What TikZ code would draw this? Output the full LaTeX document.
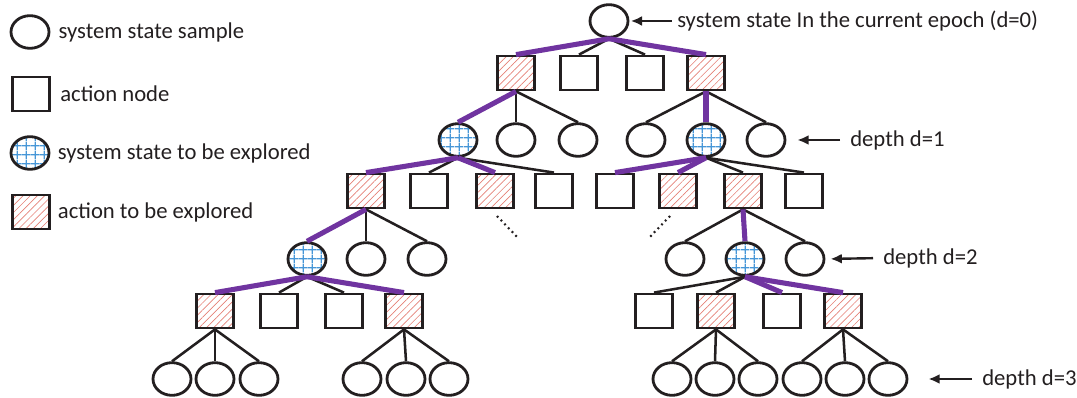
\documentclass[tikz,border=0pt]{standalone}
\usepackage{fontspec}
\setmainfont{Carlito}
\usetikzlibrary{shapes.geometric,patterns.meta,arrows.meta,positioning}
\definecolor{ink}{RGB}{35,31,32}
\definecolor{walkpurple}{RGB}{112,52,160}
\definecolor{gridblue}{RGB}{70,150,215}
\definecolor{hatchred}{RGB}{228,128,118}
\begin{document}
\begin{tikzpicture}
  [x=0.75pt, y=-0.75pt,
  statenode/.style={ellipse, draw=ink, line width=2.1pt, minimum width=28.5pt, minimum height=24.5pt, inner sep=0pt},
  actnode/.style={rectangle, draw=ink, line width=2.1pt, minimum width=27.5pt, minimum height=25.5pt, inner sep=0pt},
  openstate/.style={statenode, pattern={Hatch[angle=0,distance=6.5pt,line width=0.9pt]}, pattern color=gridblue},
  openact/.style={actnode, pattern={Lines[angle=45,distance=3.8pt,line width=0.5pt]}, pattern color=hatchred},
  lbl/.style={inner sep=0pt, anchor=west, text=ink, font=\fontsize{17}{20}\selectfont},
  tie/.style={draw=ink, line width=1.9pt},
  walk/.style={draw=walkpurple, line width=3.8pt},
  note/.style={draw=ink, line width=1.8pt, -{Latex[length=8.5pt,width=7.5pt]}},
  ]
  \useasboundingbox (0,0) rectangle (1077,398);

  % legend
  \node[statenode] (k1) at (30,32) {};
  \node[actnode] (k2) at (31,94) {};
  \node[openstate] (k3) at (30,153) {};
  \node[openact] (k4) at (31,212) {};
  \node[lbl, right=6pt of k1] (kt1) {system state sample};
  \node[lbl, right=7pt of k2] (kt2) {action node};
  \node[lbl, right=6pt of k3] (kt3) {system state to be explored};
  \node[lbl, right=6pt of k4] (kt4) {action to be explored};

  % tree
  \node[statenode] (r) at (609,21) {};

  \node[openact] (a1) at (516,73) {};
  \node[actnode] (a2) at (579,73) {};
  \node[actnode] (a3) at (645,73) {};
  \node[openact] (a4) at (706,73) {};

  \node[openstate] (b1) at (458,140) {};
  \node[statenode] (b2) at (516,140) {};
  \node[statenode] (b3) at (578,140) {};
  \node[statenode] (b4) at (646,140) {};
  \node[openstate] (b5) at (706,140) {};
  \node[statenode] (b6) at (766,140) {};

  \node[openact] (c1) at (366,191) {};
  \node[actnode] (c2) at (429,191) {};
  \node[openact] (c3) at (495,191) {};
  \node[actnode] (c4) at (554,191) {};
  \node[actnode] (c5) at (615,191) {};
  \node[openact] (c6) at (678,191) {};
  \node[openact] (c7) at (743,191) {};
  \node[actnode] (c8) at (804,191) {};

  \node[openstate] (d1) at (307,259) {};
  \node[statenode] (d2) at (366,259) {};
  \node[statenode] (d3) at (427,259) {};
  \node[statenode] (d4) at (685,259) {};
  \node[openstate] (d5) at (745,259) {};
  \node[statenode] (d6) at (805,259) {};

  \node[openact] (e1) at (215,311) {};
  \node[actnode] (e2) at (279,311) {};
  \node[actnode] (e3) at (344,311) {};
  \node[openact] (e4) at (404,311) {};
  \node[actnode] (e5) at (654,311) {};
  \node[openact] (e6) at (716,311) {};
  \node[actnode] (e7) at (782,311) {};
  \node[openact] (e8) at (843,311) {};

  \foreach \x [count=\i] in {172,215,259,362,406,449,672,715,758,802,845,888}
    \node[statenode] (f\i) at (\x,379) {};

  % plain branches
  \foreach \p/\c in {r/a2, r/a3, a1/b2, a1/b3, a4/b4, a4/b6,
      b1/c2, b1/c4, b5/c7, b5/c8, c1/d2, c1/d3, c7/d4, c7/d6,
      d1/e2, d1/e3, d5/e5, d5/e6,
      e1/f1, e1/f2, e1/f3, e4/f4, e4/f5, e4/f6,
      e6/f7, e6/f8, e6/f9, e8/f10, e8/f11, e8/f12}
    \draw[tie] (\p.south) -- (\c.north);

  % explored branches
  \foreach \p/\c in {r/a1, r/a4, a1/b1, a4/b5, b1/c1, b1/c3, b5/c5, b5/c6,
      c1/d1, c7/d5, d1/e1, d1/e4, d5/e7, d5/e8}
    \draw[walk] (\p.south) -- (\c.north);

  % omitted subtrees
  \coordinate (m1) at (497,216);
  \coordinate (m2) at (519,239);
  \coordinate (m3) at (670,216);
  \coordinate (m4) at (648,239);
  \draw[ink, line width=1.6pt, dash pattern=on 1.4pt off 2.6pt] (m1) -- (m2);
  \draw[ink, line width=1.6pt, dash pattern=on 1.4pt off 2.6pt] (m3) -- (m4);

  % depth notes
  \node[lbl] (t0) at (677,21) {system state In the current epoch (d=0)};
  \node[lbl] (t1) at (850,140) {depth d=1};
  \node[lbl] (t2) at (883,258) {depth d=2};
  \node[lbl] (t3) at (982,379) {depth d=3};
  \draw[note, shorten <=3.8pt, shorten >=1pt] (t0.west) -- (r.east);
  \draw[note, shorten <=7.5pt, shorten >=8.2pt] (t1.west) -- (b6.east);
  \draw[note, shorten <=7.5pt, shorten >=3.8pt] (t2.west) -- (d6.east);
  \draw[note, shorten <=7.5pt, shorten >=15pt] (t3.west) -- (f12.east);
\end{tikzpicture}
\end{document}
